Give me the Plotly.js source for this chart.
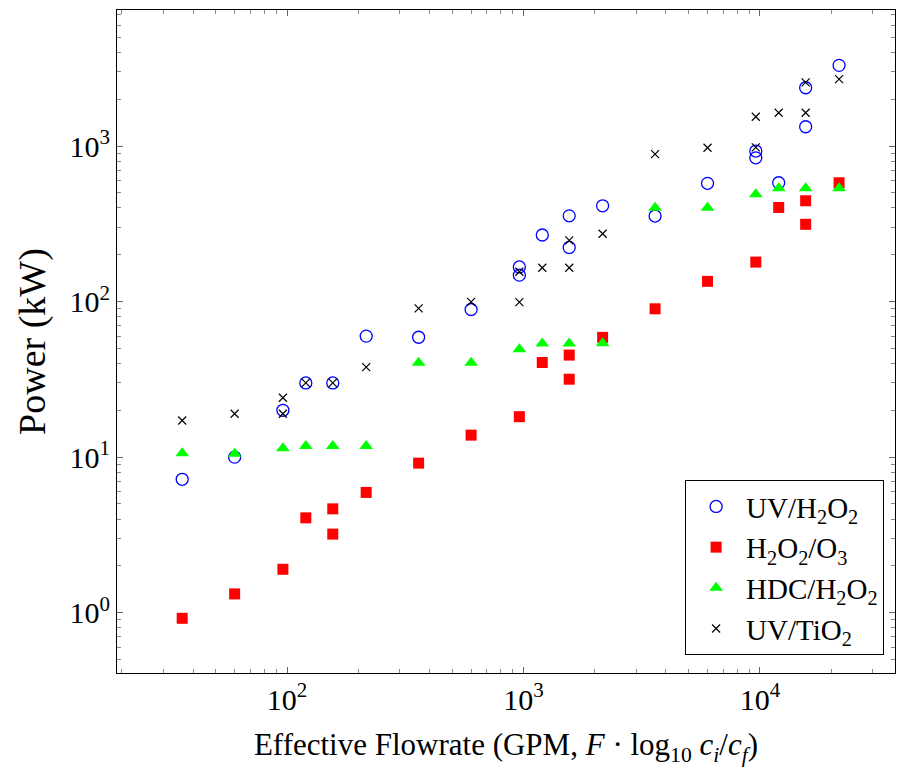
<!DOCTYPE html>
<html><head><meta charset="utf-8">
<script src="https://cdn.plot.ly/plotly-3.0.1.min.js"></script>
<style>html,body{margin:0;padding:0;background:#fff}</style>
</head><body>
<div id="chart" style="width:897px;height:772px"></div>
<script>
// Effective flowrate (GPM) and power (kW) per process
const uvH2o2X = [36,60,96,120,156,216,360,600,960,960,1200,1560,1560,2160,3600,6000,9600,9600,12000,15600,15600,21600];
const uvH2o2Y = [7.2,10,20,30,30,60,59,89,167,148,268,356,223,413,355,576,929,841,581,2371,1331,3304];

const h2o2O3X = [36,60,96,120,156,156,216,360,600,960,1200,1560,1560,2160,3600,6000,9600,12000,15600,15600,21600];
const h2o2O3Y = [0.92,1.32,1.9,4.07,4.65,3.2,5.93,9.15,13.85,18.2,40.6,45.3,31.7,58.9,89.9,135,179.5,403,445,314,581];

const hdcH2o2X = [36,60,96,120,156,216,360,600,960,1200,1560,2160,3600,6000,9600,12000,15600,21600];
const hdcH2o2Y = [10.6,10.5,11.4,11.8,11.8,11.8,40.5,40.5,49.4,53.7,53.7,53.9,402,402,490,535,535,535];

const uvTio2X = [36,60,96,96,120,156,216,360,600,960,960,1200,1560,1560,2160,3600,6000,9600,9600,12000,15600,15600,21600];
const uvTio2Y = [17.2,19,24.1,19,30,30,37.9,90.4,99.7,155.5,99.3,165,247.5,165,273,888,975,1543,981,1637,2569,1637,2697];

const seriesNames = ['UV/H<sub>2</sub>O<sub>2</sub>','H<sub>2</sub>O<sub>2</sub>/O<sub>3</sub>','HDC/H<sub>2</sub>O<sub>2</sub>','UV/TiO<sub>2</sub>'];

const xTickVals = [100,1000,10000];
const xTickText = ['10<sup>2</sup>','10<sup>3</sup>','10<sup>4</sup>'];
const yTickVals = [1,10,100,1000];
const yTickText = ['10<sup>0</sup>','10<sup>1</sup>','10<sup>2</sup>','10<sup>3</sup>'];

const FONT = 'Liberation Serif, Times New Roman, serif';

const traces = [
  {x: uvH2o2X, y: uvH2o2Y, name: seriesNames[0], type:'scatter', mode:'markers',
   marker:{symbol:'circle-open', size:12, color:'#0000ff', line:{width:1.3, color:'#0000ff'}}},
  {x: h2o2O3X, y: h2o2O3Y, name: seriesNames[1], type:'scatter', mode:'markers',
   marker:{symbol:'square', size:11, color:'#ff0000', line:{width:0}}},
  {x: hdcH2o2X, y: hdcH2o2Y, name: seriesNames[2], type:'scatter', mode:'markers',
   marker:{symbol:'triangle-up', size:12, color:'#00ff00', line:{width:0}}},
  {x: uvTio2X, y: uvTio2Y, name: seriesNames[3], type:'scatter', mode:'markers',
   marker:{symbol:'x-thin-open', size:8, color:'#000000', line:{width:1.2, color:'#000000'}}}
];

const axisCommon = {
  type:'log', showgrid:false, zeroline:false,
  showline:true, linecolor:'#000', linewidth:1, mirror:'allticks',
  ticks:'inside', ticklen:6, tickwidth:1, tickcolor:'#666',
  minor:{ticks:'inside', ticklen:4, tickwidth:1, tickcolor:'#888', dtick:'D1', showgrid:false},
  tickfont:{family:FONT, size:30, color:'#000'}
};

const layout = {
  width:897, height:772,
  margin:{l:117, r:2, t:10, b:99},
  paper_bgcolor:'#fff', plot_bgcolor:'#fff',
  font:{family:FONT, color:'#000'},
  showlegend:true,
  xaxis: Object.assign({}, axisCommon, {
    range:[1.2806, 4.571], tickvals:xTickVals, ticktext:xTickText,
    title:{text:'Effective Flowrate (GPM, <i>F</i> · log<sub>10</sub> <i>c<sub>i</sub></i>/<i>c<sub>f</sub></i>)',
           font:{family:FONT, size:31, color:'#000'}, standoff:18}
  }),
  yaxis: Object.assign({}, axisCommon, {
    range:[-0.388, 3.875], tickvals:yTickVals, ticktext:yTickText,
    title:{text:'Power (kW)', font:{family:FONT, size:38, color:'#000'}, standoff:12}
  }),
  legend:{
    x:0.986, y:0.027, xanchor:'right', yanchor:'bottom',
    bgcolor:'#fff', bordercolor:'#000', borderwidth:1,
    font:{family:FONT, size:29, color:'#000'},
    itemwidth:50, tracegroupgap:0
  }
};

Plotly.newPlot('chart', traces, layout, {displayModeBar:false, responsive:false});
</script>
</body></html>
